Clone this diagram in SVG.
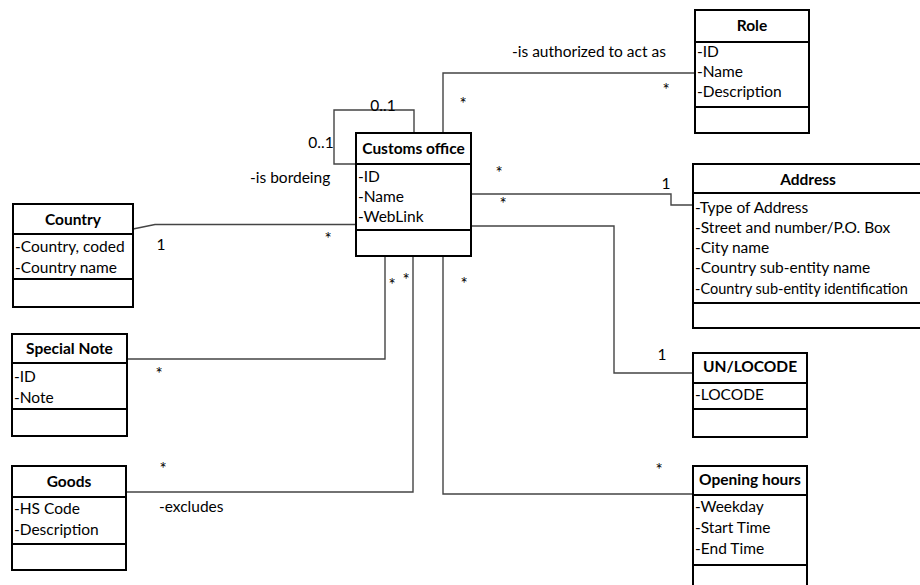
<svg xmlns="http://www.w3.org/2000/svg" width="920" height="585" viewBox="0 0 920 585">
<style>
text{font-family:Lato,"Liberation Sans",sans-serif;font-size:15.5px;fill:#000}
.h{font-weight:bold;text-anchor:middle}
.m{text-anchor:middle}
.s{text-anchor:middle;font-size:17px}
.box{fill:#fff;stroke:#000;stroke-width:2}
.div{stroke:#000;stroke-width:2}
.c{fill:none;stroke:#444;stroke-width:1.4}
</style>
<rect width="920" height="585" fill="#fff"/>
<g id="connectors">
<path class="c" d="M356,164 H334 V110 H414 V133"/>
<path class="c" d="M443,133 V73 H695"/>
<path class="c" d="M471,194 H671 V205 H693"/>
<path class="c" d="M133,229 L155,224.5 H356"/>
<path class="c" d="M471,226 H614 V373 H693"/>
<path class="c" d="M127,359 H385 V256"/>
<path class="c" d="M126,492 H413 V256"/>
<path class="c" d="M443,256 V494 H693"/>
</g>
<g id="labels">
<text x="383" y="111" class="m">0..1</text>
<text x="321" y="148" class="m">0..1</text>
<text x="250" y="183">-is bordeing</text>
<text x="512" y="57">-is authorized to act as</text>
<text x="159" y="512">-excludes</text>
<text x="666" y="189" class="m">1</text>
<text x="161" y="250" class="m">1</text>
<text x="662" y="360" class="m">1</text>
<text x="463" y="110" class="s">*</text>
<text x="666" y="96" class="s">*</text>
<text x="499" y="179" class="s">*</text>
<text x="503" y="210" class="s">*</text>
<text x="328" y="245" class="s">*</text>
<text x="392" y="291" class="s">*</text>
<text x="406" y="286" class="s">*</text>
<text x="464" y="290" class="s">*</text>
<text x="159" y="380" class="s">*</text>
<text x="163" y="475" class="s">*</text>
<text x="659" y="476" class="s">*</text>
</g>
<g id="customs-office">
<rect class="box" x="356" y="133" width="115" height="123"/>
<line class="div" x1="356" y1="164" x2="471" y2="164"/>
<line class="div" x1="356" y1="230" x2="471" y2="230"/>
<text x="413.5" y="154" class="h">Customs office</text>
<text x="358" y="182">-ID</text>
<text x="358" y="202">-Name</text>
<text x="358" y="222">-WebLink</text>
</g>
<g id="role">
<rect class="box" x="695" y="10" width="114" height="123"/>
<line class="div" x1="695" y1="42" x2="809" y2="42"/>
<line class="div" x1="695" y1="107" x2="809" y2="107"/>
<text x="752" y="31" class="h">Role</text>
<text x="697" y="57">-ID</text>
<text x="697" y="77">-Name</text>
<text x="697" y="97">-Description</text>
</g>
<g id="address">
<path class="box" d="M920,164 H693 V328 H920"/>
<line class="div" x1="693" y1="193" x2="920" y2="193"/>
<line class="div" x1="693" y1="303" x2="920" y2="303"/>
<text x="808" y="185" class="h">Address</text>
<text x="695" y="213">-Type of Address</text>
<text x="695" y="233">-Street and number/P.O. Box</text>
<text x="695" y="253">-City name</text>
<text x="695" y="273">-Country sub-entity name</text>
<text x="695" y="294" style="font-size:14.5px">-Country sub-entity identification</text>
</g>
<g id="country">
<rect class="box" x="13" y="204" width="120" height="103"/>
<line class="div" x1="13" y1="234" x2="133" y2="234"/>
<line class="div" x1="13" y1="279" x2="133" y2="279"/>
<text x="73" y="225" class="h">Country</text>
<text x="15" y="252">-Country, coded</text>
<text x="15" y="273">-Country name</text>
</g>
<g id="special-note">
<rect class="box" x="12" y="334" width="115" height="102"/>
<line class="div" x1="12" y1="363" x2="127" y2="363"/>
<line class="div" x1="12" y1="409" x2="127" y2="409"/>
<text x="69.5" y="354" class="h">Special Note</text>
<text x="14" y="382">-ID</text>
<text x="14" y="403">-Note</text>
</g>
<g id="goods">
<rect class="box" x="12" y="466" width="114" height="104"/>
<line class="div" x1="12" y1="497" x2="126" y2="497"/>
<line class="div" x1="12" y1="544" x2="126" y2="544"/>
<text x="69" y="487" class="h">Goods</text>
<text x="14" y="514">-HS Code</text>
<text x="14" y="535">-Description</text>
</g>
<g id="un-locode">
<rect class="box" x="693" y="353" width="114" height="84"/>
<line class="div" x1="693" y1="383" x2="807" y2="383"/>
<line class="div" x1="693" y1="409" x2="807" y2="409"/>
<text x="750" y="372" class="h">UN/LOCODE</text>
<text x="695" y="400">-LOCODE</text>
</g>
<g id="opening-hours">
<path class="box" d="M693,585 V466 H807 V585"/>
<line class="div" x1="693" y1="495" x2="807" y2="495"/>
<line class="div" x1="693" y1="565" x2="807" y2="565"/>
<text x="750" y="485" class="h">Opening hours</text>
<text x="695" y="512">-Weekday</text>
<text x="695" y="533">-Start Time</text>
<text x="695" y="554">-End Time</text>
</g>
</svg>
